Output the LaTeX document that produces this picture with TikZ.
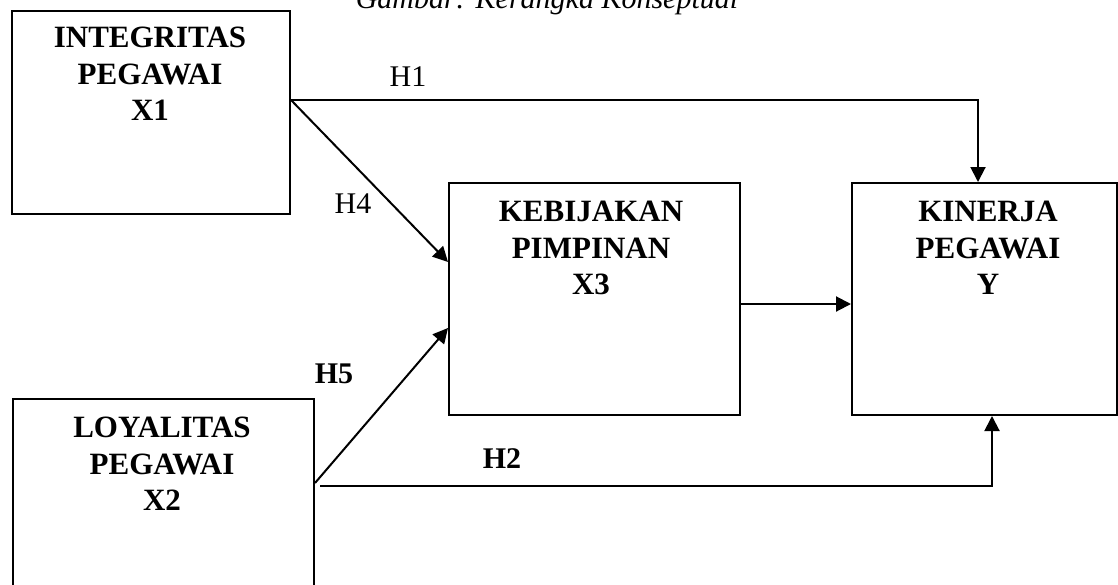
\documentclass[tikz,border=0pt]{standalone}
\usepackage{fontspec}
\setmainfont{Liberation Serif}
\usetikzlibrary{arrows.meta,calc}

\tikzset{
  box/.style={draw=black, line width=2pt, rectangle, inner sep=0pt, anchor=north west},
  boxtitle/.style={align=center, inner sep=0pt, anchor=north,
    font=\fontsize{31}{36.5}\selectfont\bfseries},
  hyp/.style={inner sep=0pt, anchor=base, font=\fontsize{30}{36}\selectfont},
  hypbold/.style={hyp, font=\fontsize{30}{36}\selectfont\bfseries},
  conn/.style={line width=2pt, -{Triangle[length=15pt,width=15pt]}},
}

\begin{document}
\begin{tikzpicture}[x=1pt, y=-1pt]
  \clip (0,0) rectangle (1118,584);
  \fill[white] (0,0) rectangle (1118,584);

  % caption, partly above the page edge
  \node[inner sep=0pt, anchor=base, font=\fontsize{30}{36}\selectfont\itshape] (cap) at (547,8)
    {Gambar: Kerangka Konseptual};

  % variable boxes
  \node[box, minimum width=278pt, minimum height=203pt] (x1) at (11,10) {};
  \node[box, minimum width=291pt, minimum height=232pt] (x3) at (448,182) {};
  \node[box, minimum width=265pt, minimum height=232pt] (y)  at (851,182) {};
  \node[box, minimum width=301pt, minimum height=210pt] (x2) at (12,398) {};

  % box titles
  \node[boxtitle] (x1t) at (150,27)  {INTEGRITAS\\PEGAWAI\\X1};
  \node[boxtitle] (x3t) at (591,201) {KEBIJAKAN\\PIMPINAN\\X3};
  \node[boxtitle] (yt)  at (988,201) {KINERJA\\PEGAWAI\\Y};
  \node[boxtitle] (x2t) at (162,417) {LOYALITAS\\PEGAWAI\\X2};

  % hypothesis labels
  \node[hyp] (h1) at (408,86)  {H1};
  \node[hyp] (h4) at (353,213) {H4};
  \node[hypbold] (h5) at (334,383) {H5};
  \node[hypbold] (h2) at (502,468) {H2};

  % connectors
  \coordinate (r1) at (0,100);
  \coordinate (r4) at (0,262);
  \coordinate (r3) at (0,304);
  \coordinate (r5a) at (0,483);
  \coordinate (r5b) at (0,328);
  \coordinate (r2) at (0,486);

  \draw[conn] (x1.east |- r1) -| ([xshift=-6.5pt]y.north);
  \draw[conn] (x1.east |- r1) -- (x3.west |- r4);
  \draw[conn] (x3.east |- r3) -- (y.west |- r3);
  \draw[conn] (x2.east |- r5a) -- (x3.west |- r5b);
  \draw[conn] ([xshift=5pt]x2.east |- r2) -| ([xshift=7.5pt]y.south);
\end{tikzpicture}
\end{document}
